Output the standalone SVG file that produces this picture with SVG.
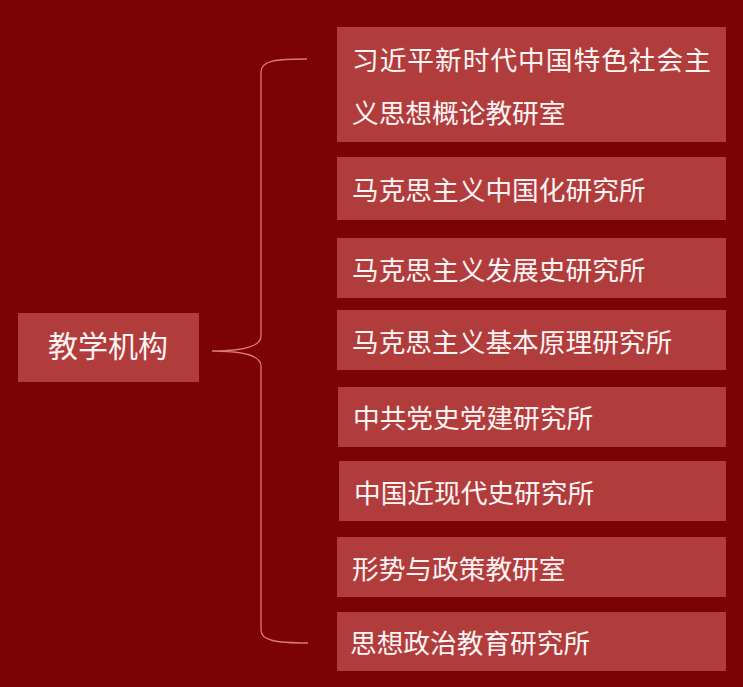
<svg xmlns="http://www.w3.org/2000/svg" width="743" height="687" viewBox="0 0 743 687">
<style>
.bg{fill:#7b0303}
.box{fill:#b13c3c}
.t{font-family:"Noto Sans CJK SC","Noto Sans",sans-serif;font-size:26.7px;font-weight:400;fill:#fff4f4}
.tl{font-size:30px}
.brace{fill:none;stroke:#d97a7a;stroke-width:1.3}
</style>
<rect class="bg" x="0" y="0" width="743" height="687"/>
<g id="connectors">
<path class="brace" d="M307,59 C274,59 261,61 261,72 L261,336 C261,346 246,351 212,351 C246,351 261,356 261,366 L261,630 C261,640 274,643 308,643"/>
</g>
<g id="node-root">
<rect class="box" x="18" y="313" width="181" height="69"/>
<text class="t tl" x="48" y="357">教学机构</text>
</g>
<g id="node-1">
<rect class="box" x="337" y="27" width="389" height="115"/>
<text class="t" x="352" y="70" letter-spacing="1">习近平新时代中国特色社会主</text>
<text class="t" x="352" y="123">义思想概论教研室</text>
</g>
<g id="node-2">
<rect class="box" x="337" y="157" width="389" height="63"/>
<text class="t" x="352" y="200">马克思主义中国化研究所</text>
</g>
<g id="node-3">
<rect class="box" x="337" y="238" width="389" height="60"/>
<text class="t" x="352" y="280">马克思主义发展史研究所</text>
</g>
<g id="node-4">
<rect class="box" x="337" y="310" width="389" height="60"/>
<text class="t" x="352" y="352">马克思主义基本原理研究所</text>
</g>
<g id="node-5">
<rect class="box" x="338" y="387" width="388" height="60"/>
<text class="t" x="353" y="428">中共党史党建研究所</text>
</g>
<g id="node-6">
<rect class="box" x="339" y="461" width="387" height="60"/>
<text class="t" x="354" y="503">中国近现代史研究所</text>
</g>
<g id="node-7">
<rect class="box" x="337" y="537" width="389" height="60"/>
<text class="t" x="352" y="579">形势与政策教研室</text>
</g>
<g id="node-8">
<rect class="box" x="337" y="612" width="389" height="59"/>
<text class="t" x="350" y="653">思想政治教育研究所</text>
</g>
</svg>
